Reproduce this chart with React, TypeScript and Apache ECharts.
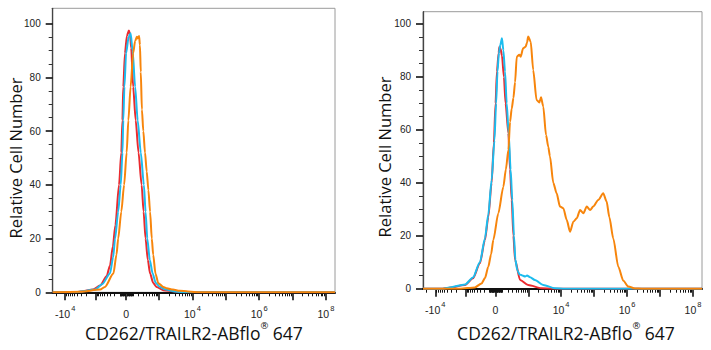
import React, { useEffect, useRef } from 'react';
import * as echarts from 'echarts';

// ---- data (x in display channels 0..1000 of the biexponential axis, y = relative cell number)
const leftRed: number[][] = [
  [0, 0], [80, 0], [100, 0.3], [143, 1], [168, 2.5], [191, 6], [203, 10], [213, 17], [222, 25], [235, 40],
  [243, 52], [247, 64], [250, 76.5], [256, 89], [263, 95.5], [270, 97.4], [274, 96], [278, 91], [285, 76.5],
  [294, 64], [304, 52], [315, 40], [322, 30], [329, 20], [337, 12], [345, 7], [356, 3.5], [368, 2], [391, 0.8],
  [433, 0.3], [470, 0], [1000, 0],
];
const leftCyan: number[][] = [
  [0, 0], [80, 0], [100, 0.3], [150, 1], [175, 3], [203, 7], [214, 13], [221, 20], [232, 30], [241, 40],
  [247, 52], [250, 64], [254, 76.5], [260, 89], [269, 95], [276, 96.4], [283, 90], [292, 76.5], [301, 64],
  [312, 52], [323, 40], [329, 30], [335, 20], [344, 12], [354, 7], [365, 3.5], [380, 2], [401, 1], [433, 0.3],
  [470, 0], [1000, 0],
];
const leftOrange: number[][] = [
  [0, 0], [97, 0.2], [168, 1], [185, 2], [215, 7], [226, 14], [232, 20], [243, 30], [253, 40], [262, 52],
  [268, 64], [276, 76.5], [285, 89], [292, 93.5], [298, 95.1], [301, 94.5], [306, 95.4], [309, 92], [312, 82],
  [316, 68], [321, 60], [327, 52], [333, 45], [339, 38], [345, 30], [351, 20], [356, 14], [364, 7], [374, 3.4],
  [392, 2], [404, 1.5], [426, 1], [450, 0.6], [479, 0.3], [522, 0], [1000, 0],
];
const rightRed: number[][] = [
  [0, 0], [70, 0], [90, 0.3], [151, 1.4], [179, 3.9], [204, 9.6], [222, 18.4], [234, 27], [246, 40], [254, 55],
  [260, 70], [265, 82], [271, 89], [274, 91.4], [278, 90.5], [283, 88], [290, 80], [296, 70], [306, 58.7],
  [312, 45], [318, 33.5], [324, 20], [330, 10.8], [348, 3.3], [377, 1.4], [425, 0.2], [473, 0], [1000, 0],
];
const rightCyan: number[][] = [
  [0, 0], [70, 0], [90, 0.4], [151, 1.6], [179, 4.2], [204, 10], [222, 19], [234, 28], [246, 41], [256, 56],
  [262, 70], [267, 82], [272, 89], [277, 92], [283, 94.6], [288, 90], [294, 82], [300, 70], [307, 58.7],
  [314, 45], [320, 33.5], [326, 20], [331, 11], [338, 7], [346, 5.4], [356, 5.0], [366, 4.6], [373, 5.0],
  [384, 4.3], [401, 3.3], [431, 1.4], [473, 0.2], [509, 0], [1000, 0],
];
const rightOrange: number[][] = [
  [0, 0], [133, 0], [186, 0.5], [210, 2], [222, 4], [234, 8.3], [244, 13], [252, 18.4], [270, 28.5],
  [288, 38.5], [297, 45], [306, 52.4], [312, 63], [318, 68], [324, 72], [330, 78], [336, 87.6], [345, 88.3],
  [350, 87.6], [359, 90.8], [368, 91.4], [373, 93], [377, 95.2], [386, 93.3], [395, 82.6], [407, 71.3],
  [417, 70.3], [423, 72.3], [431, 68.8], [441, 58], [449, 53.6], [455, 50], [467, 40], [479, 36], [491, 31],
  [503, 30.4], [515, 26], [527, 21.5], [539, 25.3], [551, 26.6], [563, 29.7], [575, 28.5], [587, 31],
  [599, 29.7], [610, 31], [628, 33.5], [646, 36], [658, 33], [668, 27], [682, 19], [700, 8.3], [718, 3],
  [736, 0.8], [760, 0.1], [784, 0], [1000, 0],
];

// ---- axis ticks
const yTicks = [0, 20, 40, 60, 80, 100];
const yMinorTicks = [5, 10, 15, 25, 30, 35, 45, 50, 55, 65, 70, 75, 85, 90, 95];
const xMajorTicks = [-1e4, -1e3, 0, 1e3, 1e4, 1e5, 1e6, 1e7, 1e8];
const xNegMinorDecades = [10, 100, 1000];
const xPosMinorDecades = [10, 100, 1e3, 1e4, 1e5, 1e6, 1e7];
const xMinorMultipliers = [1, 2, 3, 4, 5, 6, 7, 8, 9];
const xExtraMinor = [-2e4];
const xLabelValues = [-1e4, 0, 1e4, 1e6, 1e8];
const xLabelTexts = ['{n|-10}{s|4}', '{n|0}', '{n|10}{s|4}', '{n|10}{s|6}', '{n|10}{s|8}'];
const yTitle = 'Relative Cell Number';
const xTitle = '{a|CD262/TRAILR2-ABflo}{r|®}{a| 647}';

// biexponential display transform (value -> channel 0..1000)
const BIEX = { zero: 260, pos: 51.35, neg: 47.2, width: 206 };
const T = (v: number) => BIEX.zero + (v >= 0 ? BIEX.pos : BIEX.neg) * Math.asinh(v / BIEX.width);

const majorSet = new Set(xMajorTicks);
const minorVals: number[] = [];
xNegMinorDecades.forEach((d) => xMinorMultipliers.forEach((m) => { const v = -m * d; if (!majorSet.has(v)) minorVals.push(v); }));
xPosMinorDecades.forEach((d) => xMinorMultipliers.forEach((m) => { const v = m * d; if (!majorSet.has(v)) minorVals.push(v); }));
xExtraMinor.forEach((v) => { if (!minorVals.includes(v)) minorVals.push(v); });

const xMajorPos = xMajorTicks.map(T);
const xMinorPos = minorVals.map(T).filter((p) => p > 0 && p < 1000);
const xLabelPos = xLabelValues.map(T);

const RED = '#ea2a2f';
const CYAN = '#1cbcee';
const ORANGE = '#f7850c';
const FONT = '"Open Sans", "Noto Sans", sans-serif';
const TICKFONT = 'Arial, "Liberation Sans", sans-serif';

export default function App() {
  const ref = useRef<HTMLDivElement>(null);
  useEffect(() => {
    if (!ref.current) return;
    const chart = echarts.init(ref.current, undefined, { renderer: 'svg' });
    const grids = [
      { left: 52.7, top: 8.3, width: 282.3, height: 284, ymax: 105.7 },
      { left: 423, top: 11.7, width: 279, height: 277, ymax: 104.6 },
    ];
    const xAxes: any[] = [];
    const yAxes: any[] = [];
    grids.forEach((g, gi) => {
      xAxes.push({
        type: 'value', gridIndex: gi, min: 0, max: 1000, position: 'bottom',
        axisLine: { show: true, onZero: false, lineStyle: { color: '#111', width: 2 } },
        axisTick: { show: true, customValues: xMajorPos, length: 8, lineStyle: { color: '#111', width: 1.6 } },
        axisLabel: {
          show: true, customValues: xLabelPos, margin: 12,
          formatter: (val: number) => {
            let best = 0;
            xLabelPos.forEach((p, i) => { if (Math.abs(p - val) < Math.abs(xLabelPos[best] - val)) best = i; });
            return xLabelTexts[best];
          },
          rich: {
            n: { fontSize: 10.5, fontFamily: TICKFONT, color: '#222', lineHeight: 15, verticalAlign: 'bottom' },
            s: { fontSize: 7.5, fontFamily: TICKFONT, color: '#222', lineHeight: 15, verticalAlign: 'top', padding: [0, 0, 0, 1] },
          },
        },
        splitLine: { show: false },
      });
      xAxes.push({
        type: 'value', gridIndex: gi, min: 0, max: 1000, position: 'bottom',
        axisLine: { show: false },
        axisTick: { show: true, customValues: xMinorPos, length: 4, lineStyle: { color: '#111', width: 1 } },
        axisLabel: { show: false },
        splitLine: { show: false },
      });
      yAxes.push({
        type: 'value', gridIndex: gi, min: 0, max: g.ymax, position: 'left',
        axisLine: { show: true, onZero: false, lineStyle: { color: '#444', width: 1.3 } },
        axisTick: { show: true, customValues: yTicks, length: 7, lineStyle: { color: '#111', width: 1.6 } },
        axisLabel: {
          show: true, customValues: yTicks, margin: 12, fontSize: 10, color: '#222', fontFamily: TICKFONT,
        },
        splitLine: { show: false },
      });
      yAxes.push({
        type: 'value', gridIndex: gi, min: 0, max: g.ymax, position: 'left',
        axisLine: { show: false },
        axisTick: { show: true, customValues: yMinorTicks, length: 4, lineStyle: { color: '#333', width: 1 } },
        axisLabel: { show: false },
        splitLine: { show: false },
      });
    });
    const mk = (data: number[][], color: string, gi: number, z: number) => ({
      type: 'line', data, xAxisIndex: gi * 2, yAxisIndex: gi * 2, showSymbol: false, symbol: 'none',
      smooth: 0.25, smoothMonotone: 'x', z,
      lineStyle: { color, width: 2 }, itemStyle: { color },
    });
    chart.setOption({
      animation: false,
      backgroundColor: '#fff',
      grid: grids.map((g) => ({
        left: g.left, top: g.top, width: g.width, height: g.height, show: true,
        borderColor: '#9a9a9a', borderWidth: 1, backgroundColor: 'transparent',
      })),
      xAxis: xAxes,
      yAxis: yAxes,
      series: [
        mk(leftRed, RED, 0, 2), mk(leftCyan, CYAN, 0, 3), mk(leftOrange, ORANGE, 0, 4),
        mk(rightRed, RED, 1, 2), mk(rightCyan, CYAN, 1, 3), mk(rightOrange, ORANGE, 1, 4),
      ],
      graphic: [
        { type: 'text', x: 15, y: 158, rotation: Math.PI / 2, style: { text: yTitle, fontSize: 16.5, fontFamily: FONT, fill: '#111', textAlign: 'center', textVerticalAlign: 'middle' } },
        { type: 'text', x: 384, y: 157, rotation: Math.PI / 2, style: { text: yTitle, fontSize: 16.5, fontFamily: FONT, fill: '#111', textAlign: 'center', textVerticalAlign: 'middle' } },
        ...[194, 566].map((x) => ({
          type: 'text', x, y: 331,
          style: {
            text: xTitle, textAlign: 'center', textVerticalAlign: 'middle',
            rich: {
              a: { fontSize: 17.5, fontFamily: FONT, fill: '#111', lineHeight: 22, verticalAlign: 'bottom' },
              r: { fontSize: 9.5, fontFamily: FONT, fill: '#111', lineHeight: 22, verticalAlign: 'top' },
            },
          },
        })),
      ],
    });
    return () => chart.dispose();
  }, []);
  return <div ref={ref} style={{ position: 'fixed', left: 0, top: 0, width: 711, height: 350 }} />;
}
